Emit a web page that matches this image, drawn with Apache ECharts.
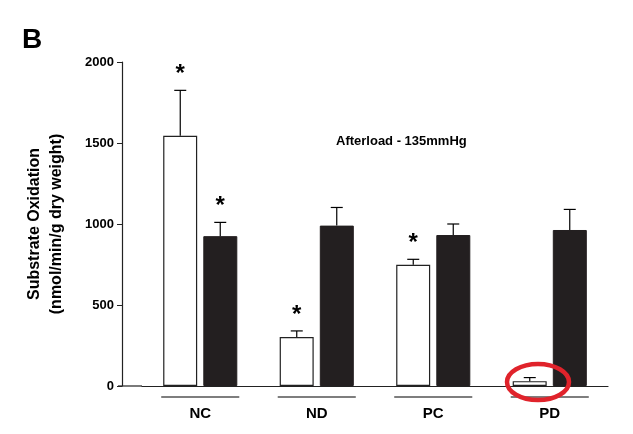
<!DOCTYPE html><html><head><meta charset="utf-8"><script src="https://cdn.jsdelivr.net/npm/echarts@6/dist/echarts.min.js"></script>
<style>html,body{margin:0;background:#fff}#c{width:633px;height:434px}</style></head><body><div id="c"></div><script>
const categories=['NC','ND','PC','PD'];
const whiteVals=[1545,302,748,30];
const whiteErr=[1825,340,782,52];
const blackVals=[925,990,932,963];
const blackErr=[1010,1102,1000,1090];
const whiteStar=[true,true,true,false];
const blackStar=[true,false,false,false];
const yTicks=[0,500,1000,1500,2000];
const chart=echarts.init(document.getElementById('c'));
const F='Liberation Sans, Arial, sans-serif';
function errSeries(vals,errs,stars,side){
 return {type:'custom',z:5,data:vals.map((v,i)=>[i,v,errs[i],stars[i]?1:0]),
  renderItem(p,api){const i=api.value(0);
   const bw=34,gap=6;const cx=api.coord([i,0])[0]+side*(bw/2+gap/2);
   const top=api.coord([i,api.value(1)])[1],e=api.coord([i,api.value(2)])[1];
   const ch=[{type:'line',shape:{x1:cx,y1:top,x2:cx,y2:e},style:{stroke:'#000',lineWidth:1.2}},
    {type:'line',shape:{x1:cx-6,y1:e,x2:cx+6,y2:e},style:{stroke:'#000',lineWidth:1.2}}];
   if(api.value(3))ch.push({type:'text',style:{x:cx,y:e-4,text:'*',font:'bold 24px '+F,align:'center',verticalAlign:'bottom',fill:'#000'}});
   return {type:'group',children:ch};}};
}
chart.setOption({animation:false,
 grid:{left:142,right:25,top:62,bottom:48},
 xAxis:{type:'category',data:categories,axisLine:{lineStyle:{color:'#222',width:1.2}},axisTick:{show:false},
  axisLabel:{interval:0,margin:10,formatter:v=>'{l|}\n{t|'+v+'}',rich:{l:{width:78,height:0,borderColor:'#000',borderWidth:0.6,lineHeight:2},t:{fontFamily:F,fontWeight:'bold',fontSize:15,color:'#000',lineHeight:26,padding:[6,0,0,0]}}}},
 yAxis:{type:'value',min:0,max:2000,interval:500,offset:20,axisLine:{show:true,lineStyle:{color:'#222',width:1.2}},axisTick:{show:true,inside:false,length:5,lineStyle:{color:'#222'}},splitLine:{show:false},
  axisLabel:{fontFamily:F,fontWeight:'bold',fontSize:13,color:'#000',margin:8,formatter:v=>String(v)},
  name:'Substrate Oxidation\n(nmol/min/g dry weight)',nameLocation:'middle',nameGap:54,nameTextStyle:{fontFamily:F,fontWeight:'bold',fontSize:16,color:'#000',lineHeight:22}},
 series:[
  {type:'bar',data:whiteVals,barWidth:34,barGap:'18%',itemStyle:{color:'#fff',borderColor:'#222',borderWidth:1.2}},
  {type:'bar',data:blackVals,barWidth:34,itemStyle:{color:'#231f20',borderColor:'#231f20',borderWidth:1}},
  errSeries(whiteVals,whiteErr,whiteStar,-1),errSeries(blackVals,blackErr,blackStar,1)],
 graphic:[
  {type:'text',left:22,top:26,style:{text:'B',font:'bold 28px '+F,fill:'#000'}},
  {type:'text',left:336,top:135,style:{text:'Afterload - 135mmHg',font:'bold 13px '+F,fill:'#000'}},
  {type:'line',shape:{x1:118,y1:386,x2:142,y2:386},style:{stroke:'#222',lineWidth:1.2}},
  {type:'ellipse',z:20,shape:{cx:538,cy:382,rx:31,ry:18},style:{fill:'none',stroke:'#e0232b',lineWidth:4.5}}]
});
</script></body></html>
